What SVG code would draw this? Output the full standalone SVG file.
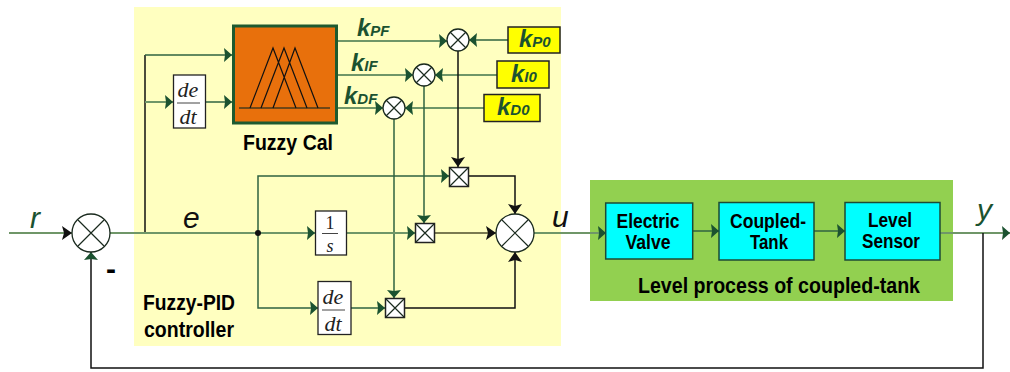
<svg xmlns="http://www.w3.org/2000/svg" width="1010" height="372" viewBox="0 0 1010 372">
<style>
.g{fill:none;stroke:#2f6340;stroke-width:1.5}
.gl{fill:none;stroke:#6f9668;stroke-width:2}
.b{fill:none;stroke:#111;stroke-width:1.5}
.sum{fill:#fff;stroke:#1a2a1e;stroke-width:1.3}
.x{stroke:#1a2a1e;stroke-width:1.2;fill:none}
.mul{fill:#fff;stroke:#222;stroke-width:1.5}
.frac{fill:#fff;stroke:#222;stroke-width:1.3}
.math{font-family:"Liberation Serif",serif;font-style:italic;font-size:22px;fill:#222;text-anchor:middle}
.lbl{font-family:"Liberation Sans",Arial,sans-serif;font-weight:bold;font-size:22px;fill:#000;text-anchor:middle}
.box{font-size:20.500px}
.ks{font-family:"Liberation Sans",Arial,sans-serif;font-weight:bold;font-style:italic;fill:#1b5230}
.big{font-family:"Liberation Sans",Arial,sans-serif;font-style:italic;font-size:30px}
.y{fill:#ffff00;stroke:#222;stroke-width:1.5}
.c{fill:#00ffff;stroke:#1d4a35;stroke-width:1.5}
</style>
<defs>
<marker id="ag" markerUnits="userSpaceOnUse" markerWidth="10" markerHeight="15" refX="8" refY="7" orient="auto"><path d="M0 0L8 7L0 14L1 7Z" fill="#1b5230"/></marker>
<marker id="ab" markerUnits="userSpaceOnUse" markerWidth="12" markerHeight="15" refX="10" refY="7" orient="auto"><path d="M0 0L10 7L0 14L2 7Z" fill="#111"/></marker>
</defs>
<rect id="fuzzy-pid-bg" x="134" y="7" width="427" height="339" fill="#ffffc0"/>
<rect id="process-bg" x="590" y="180" width="363" height="121" fill="#92d050"/>
<g id="connectors">
<path class="b" d="M145 233V55"/>
<path class="g" d="M145 55H232" marker-end="url(#ag)"/>
<path class="gl" d="M145 102H173" marker-end="url(#ag)"/>
<path class="g" d="M206 102H232" marker-end="url(#ag)"/>
<path class="gl" d="M338 41H447" marker-end="url(#ag)"/>
<path class="gl" d="M338 75H413" marker-end="url(#ag)"/>
<path class="gl" d="M338 108H383" marker-end="url(#ag)"/>
<path class="g" d="M508 40H469" marker-end="url(#ag)"/>
<path class="gl" d="M497 75H435" marker-end="url(#ag)"/>
<path class="gl" d="M484 108H405" marker-end="url(#ag)"/>
<path class="b" d="M458 51V167" marker-end="url(#ab)"/>
<path class="g" d="M424 86V223" marker-end="url(#ag)"/>
<path class="g" d="M394 119V298" marker-end="url(#ag)"/>
<path class="g" d="M258 233V176H449" marker-end="url(#ag)"/>
<path class="g" d="M258 233V308H318" marker-end="url(#ag)"/>
<path class="gl" d="M110 233H315" marker-end="url(#ag)"/>
<path class="gl" d="M347 233H415" marker-end="url(#ag)"/>
<path class="g" d="M351 308H385" marker-end="url(#ag)"/>
<path class="b" d="M468 176H515V214" marker-end="url(#ab)"/>
<path class="gl" d="M434 233H496" style="stroke:#7a7a50" marker-end="url(#ab)"/>
<path class="b" d="M404 308H515V252" marker-end="url(#ab)"/>
<path class="gl" d="M9 233H72" marker-end="url(#ab)"/>
<path class="gl" d="M534 233H606" marker-end="url(#ag)"/>
<path class="g" d="M693 231H719" marker-end="url(#ag)"/>
<path class="g" d="M814 231H845" marker-end="url(#ag)"/>
<path class="gl" d="M940 233H1010" marker-end="url(#ag)"/>
<path class="b" d="M983 233V368H91V252" marker-end="url(#ag)"/>
<circle cx="258" cy="233" r="3" fill="#111"/>
</g>
<g id="fuzzy-cal">
<rect x="233.500" y="26" width="103" height="97" fill="#e8700c" stroke="#1d5a30" stroke-width="3"/>
<path d="M239 108H330" stroke="#4a3a1a" stroke-width="1.500" fill="none"/>
<path d="M250 108L273 48L296 108M261 108L284 48L307 108M273 108L295 48L318 108" stroke="#111" stroke-width="1.200" fill="none"/>
</g>
<text class="lbl" x="288" y="150" textLength="90" lengthAdjust="spacingAndGlyphs">Fuzzy Cal</text>
<g id="dedt-top">
<rect class="frac" x="173.500" y="75" width="32" height="53"/>
<path d="M177 103H200" stroke="#444"/>
<text class="math" x="188" y="97">de</text><text class="math" x="188" y="124">dt</text>
</g>
<g id="sum-p"><circle class="sum" cx="458" cy="40" r="11"/><path class="x" d="M450 32L466 48M466 32L450 48"/></g>
<g id="sum-i"><circle class="sum" cx="424" cy="75" r="11"/><path class="x" d="M416 67L432 83M432 67L416 83"/></g>
<g id="sum-d"><circle class="sum" cx="394" cy="108" r="11"/><path class="x" d="M386 100L402 116M402 100L386 116"/></g>
<g id="kp0"><rect class="y" x="508" y="27" width="52" height="26"/><text class="ks" x="519" y="47" font-size="24">k<tspan font-size="15">P0</tspan></text></g>
<g id="ki0"><rect class="y" x="497" y="61" width="52" height="27"/><text class="ks" x="511" y="82" font-size="24">k<tspan font-size="15">I0</tspan></text></g>
<g id="kd0"><rect class="y" x="484" y="94.500" width="56" height="27"/><text class="ks" x="497" y="115" font-size="24">k<tspan font-size="15">D0</tspan></text></g>
<text class="ks" x="357" y="36" font-size="24">k<tspan font-size="15">PF</tspan></text>
<text class="ks" x="351" y="71" font-size="24">k<tspan font-size="15">IF</tspan></text>
<text class="ks" x="344" y="104" font-size="24">k<tspan font-size="15">DF</tspan></text>
<g id="mul-p"><rect class="mul" x="449.500" y="167.500" width="19" height="19"/><path class="x" d="M450 168L468 186M468 168L450 186"/></g>
<g id="mul-i"><rect class="mul" x="415.500" y="223.500" width="19" height="19"/><path class="x" d="M416 224L434 242M434 224L416 242"/></g>
<g id="mul-d"><rect class="mul" x="385.500" y="298.500" width="19" height="19"/><path class="x" d="M386 299L404 317M404 299L386 317"/></g>
<g id="sum-out"><circle class="sum" cx="515" cy="233" r="19"/><path class="x" d="M502 220L528 246M528 220L502 246"/></g>
<g id="sum-in"><circle class="sum" cx="91" cy="233" r="19"/><path class="x" d="M78 220L104 246M104 220L78 246"/></g>
<g id="integrator">
<rect class="frac" x="315.500" y="211" width="31" height="44"/>
<path d="M322 233.500H338" stroke="#444"/>
<text class="math" x="330" y="229" style="font-style:normal;font-size:18px">1</text><text class="math" x="330" y="252" style="font-size:18px">s</text>
</g>
<g id="dedt-bottom">
<rect class="frac" x="318" y="281.500" width="33" height="53"/>
<path d="M322 310H345" stroke="#444"/>
<text class="math" x="333" y="304">de</text><text class="math" x="333" y="331">dt</text>
</g>
<text class="big" x="30" y="228" fill="#1b5230">r</text>
<text class="big" x="183" y="228" fill="#111">e</text>
<text class="big" x="552" y="227" fill="#111">u</text>
<text class="big" x="977" y="220" fill="#1b5230">y</text>
<text class="lbl" x="111" y="279" style="font-size:30px">-</text>
<text class="lbl" x="189" y="310" textLength="92" lengthAdjust="spacingAndGlyphs">Fuzzy-PID</text>
<text class="lbl" x="189" y="337" textLength="90" lengthAdjust="spacingAndGlyphs">controller</text>
<g id="valve"><rect class="c" x="605.700" y="203" width="87" height="56"/>
<text class="lbl box" x="648" y="228" textLength="63" lengthAdjust="spacingAndGlyphs">Electric</text><text class="lbl box" x="648" y="249" textLength="45" lengthAdjust="spacingAndGlyphs">Valve</text></g>
<g id="tank"><rect class="c" x="719" y="202.500" width="95" height="57.500"/>
<text class="lbl box" x="768" y="228" textLength="76" lengthAdjust="spacingAndGlyphs">Coupled-</text><text class="lbl box" x="769" y="249" textLength="38" lengthAdjust="spacingAndGlyphs">Tank</text></g>
<g id="sensor"><rect class="c" x="845" y="202.500" width="95" height="57.500"/>
<text class="lbl box" x="890" y="227" textLength="44" lengthAdjust="spacingAndGlyphs">Level</text><text class="lbl box" x="891" y="248" textLength="58" lengthAdjust="spacingAndGlyphs">Sensor</text></g>
<text class="lbl" x="779" y="293" textLength="282" lengthAdjust="spacingAndGlyphs">Level process of coupled-tank</text>
</svg>
